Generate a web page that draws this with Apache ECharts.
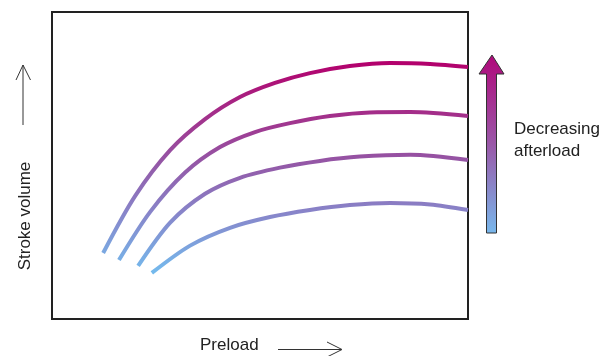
<!DOCTYPE html>
<html>
<head>
<meta charset="utf-8">
<script src="https://cdn.jsdelivr.net/npm/echarts@6/dist/echarts.min.js"></script>
<style>html,body{margin:0;padding:0;background:#fff}#c{width:605px;height:356px}</style>
</head>
<body>
<div id="c"></div>
<script>
// Preload (x, arbitrary units 0-100) vs stroke volume (y, arbitrary units 0-100)
var curve1 = [[12.3,21.5],[20.0,40.1],[28.4,55.0],[36.8,65.1],[45.2,72.3],[53.6,76.9],[62.0,80.1],[71.6,82.4],[81.3,83.4],[90.9,83.1],[100,82.1]];
var curve2 = [[16.1,19.2],[23.6,34.9],[32.0,47.7],[40.4,56.0],[48.8,60.9],[57.2,63.8],[66.8,66.1],[76.4,67.3],[86.1,67.4],[100,66.1]];
var curve3 = [[20.7,17.3],[28.4,31.4],[36.8,40.8],[45.2,46.0],[54.8,49.3],[64.4,51.5],[74.0,52.9],[86.1,53.5],[100,51.8]];
var curve4 = [[24.0,15.0],[33.2,23.9],[42.8,29.7],[52.4,33.2],[62.0,35.5],[71.6,37.1],[81.3,37.8],[90.9,37.3],[100,35.5]];
var curveNames = ['Lowest afterload','Low afterload','High afterload','Highest afterload'];
var xAxisTitle = 'Preload';
var yAxisTitle = 'Stroke volume';
var arrowLabel = 'Decreasing\nafterload';

var chart = echarts.init(document.getElementById('c'), null, {renderer:'canvas'});
var grad = {
  type:'linear', x:0, y:62, x2:0, y2:276, global:true,
  colorStops:[
    {offset:0, color:'#b3006c'},
    {offset:0.25, color:'#a3308b'},
    {offset:0.47, color:'#9457a6'},
    {offset:0.70, color:'#8884c9'},
    {offset:1, color:'#73bdef'}
  ]
};
function mk(name, data){
  return {name:name, type:'line', data:data, smooth:0.3, symbol:'none', silent:true,
    lineStyle:{width:4, color:grad, cap:'butt'}};
}
var font = '"Liberation Sans", Arial, sans-serif';
chart.setOption({
  animation:false,
  backgroundColor:'#fff',
  grid:{left:52, top:12, right:137, bottom:37, show:true, borderColor:'#222', borderWidth:2, backgroundColor:'transparent'},
  xAxis:{type:'value', min:0, max:100, show:true, axisLine:{show:false}, axisTick:{show:false}, axisLabel:{show:false}, splitLine:{show:false}},
  yAxis:{type:'value', min:0, max:100, show:true, axisLine:{show:false}, axisTick:{show:false}, axisLabel:{show:false}, splitLine:{show:false}},
  series:[mk(curveNames[0],curve1), mk(curveNames[1],curve2), mk(curveNames[2],curve3), mk(curveNames[3],curve4)],
  graphic:[
    {type:'polygon', shape:{points:[[492,55],[504,74],[496.5,74],[496.5,233],[486.5,233],[486.5,74],[479,74]]},
     style:{fill:{type:'linear',x:0,y:0,x2:0,y2:1,colorStops:[{offset:0,color:'#b0087a'},{offset:0.5,color:'#9a58a8'},{offset:1,color:'#78b8ec'}]}, stroke:'#333', lineWidth:1}},
    {type:'text', x:514, y:118, style:{text:arrowLabel, font:'17px '+font, fill:'#222', lineHeight:22, align:'left', verticalAlign:'top'}},
    {type:'text', x:25, y:216, rotation:Math.PI/2, style:{text:yAxisTitle, font:'17px '+font, fill:'#222', align:'center', verticalAlign:'middle'}},
    {type:'polyline', shape:{points:[[23,125],[23,65]]}, style:{stroke:'#333', lineWidth:1, fill:null}},
    {type:'polyline', shape:{points:[[16,80],[23,65],[30.5,80]]}, style:{stroke:'#333', lineWidth:1, fill:null}},
    {type:'text', x:200, y:345, style:{text:xAxisTitle, font:'17px '+font, fill:'#222', align:'left', verticalAlign:'middle'}},
    {type:'polyline', shape:{points:[[278,349.5],[341,349.5]]}, style:{stroke:'#333', lineWidth:1, fill:null}},
    {type:'polyline', shape:{points:[[327,342],[342,349.5],[327,357]]}, style:{stroke:'#333', lineWidth:1, fill:null}}
  ]
});
</script>
</body>
</html>
